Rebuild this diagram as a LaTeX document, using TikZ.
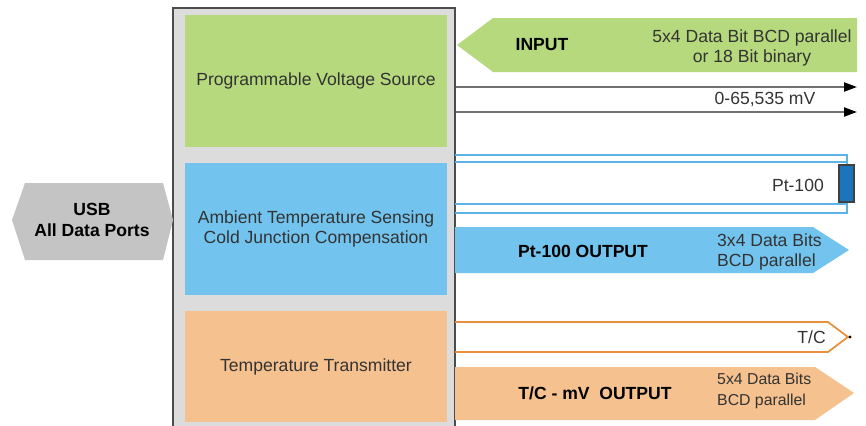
\documentclass[tikz,border=0pt]{standalone}
\usepackage{fontspec}
\setmainfont{Liberation Sans}
\usetikzlibrary{arrows.meta}
\definecolor{pvsgreen}{HTML}{B5D97C}
\definecolor{atsblue}{HTML}{72C4EE}
\definecolor{ttorange}{HTML}{F5C18E}
\definecolor{framegray}{HTML}{DCDCDC}
\definecolor{usbgray}{HTML}{C4C4C4}
\definecolor{wireblue}{HTML}{5DB3E4}
\definecolor{sensorblue}{HTML}{1B75BC}
\definecolor{wireorange}{HTML}{E8903E}
\definecolor{linegray}{HTML}{707070}
\definecolor{txt}{HTML}{333333}
\begin{document}
\begin{tikzpicture}[x=0.02cm,y=-0.02cm,
every node/.style={font=\fontsize{10}{11.5}\selectfont,text=txt},
frame/.style={draw=black!70,line width=1pt,fill=framegray,minimum width=5.64cm,minimum height=8.56cm},
block/.style={minimum width=5.24cm,inner sep=0pt,align=center},
boldtext/.style={font=\fontsize{10}{11.5}\selectfont\bfseries,text=black},
lead/.style={linegray,line width=1.2pt,-{Triangle[length=2.6mm,width=1.8mm,color=black]}}
]
\useasboundingbox (0,0) rectangle (866,426);
\node[frame] (frame) at (314,222) {};
\node[block,fill=pvsgreen,minimum height=2.64cm] (pvs) at (316,81) {Programmable Voltage Source};
\node[block,fill=atsblue,minimum height=2.64cm] (ats) at (316,229) {Ambient Temperature Sensing\\Cold Junction Compensation};
\node[block,fill=ttorange,minimum height=2.22cm] (tt) at (316,366.5) {Temperature Transmitter};

\fill[usbgray] (12,220) -- (25,183) -- (163,183) -- (173,220) -- (163,260) -- (25,260) -- cycle;
\node[boldtext,align=center] (usb) at (92,220) {USB\\All Data Ports};

\fill[pvsgreen] (457,45) -- (493,18) -- (857,18) -- (857,72) -- (493,72) -- cycle;
\node[boldtext] (input) at (542,45) {INPUT};
\node[align=center] (inbits) at (752,48) {5x4 Data Bit BCD parallel\\or 18 Bit binary};

\coordinate (v1) at (857,87);
\coordinate (v2) at (857,112);
\draw[lead] (frame.east |- v1) -- (v1);
\draw[lead] (frame.east |- v2) -- (v2);
\node (mv) at (765,99) {0-65,535 mV};

\draw[wireblue,line width=0.6pt] (455,155) -- (847,155) -- (847,213) -- (455,213);
\draw[wireblue,line width=0.6pt] (455,162) -- (847,162) (455,204) -- (847,204);
\node[draw=black!75,fill=sensorblue,line width=0.6pt,minimum width=0.3cm,minimum height=0.74cm,inner sep=0pt] (sensor) at (846.5,183.5) {};
\node[anchor=east] (pt) at (830,185) {Pt-100};

\fill[atsblue] (455,227) -- (813,227) -- (849,250) -- (813,273) -- (455,273) -- cycle;
\node[boldtext] (ptout) at (583,251) {Pt-100 OUTPUT};
\node[anchor=west,align=left] (ptbits) at (711,252) {3x4 Data Bits\\BCD parallel};

\draw[wireorange,line width=1pt] (455,322) -- (828,322) -- (848,337) -- (828,352) -- (455,352);
\fill[black] (850,337) circle (1.6);
\node[anchor=east] (tc) at (832,337) {T/C};

\fill[ttorange] (455,367) -- (815,367) -- (854,393) -- (815,420) -- (455,420) -- cycle;
\node[boldtext] (tcout) at (595,393) {T/C - mV\ \ OUTPUT};
\node[anchor=west,align=left,font=\fontsize{9}{11.5}\selectfont] (tcbits) at (711,391) {5x4 Data Bits\\BCD parallel};
\end{tikzpicture}
\end{document}
